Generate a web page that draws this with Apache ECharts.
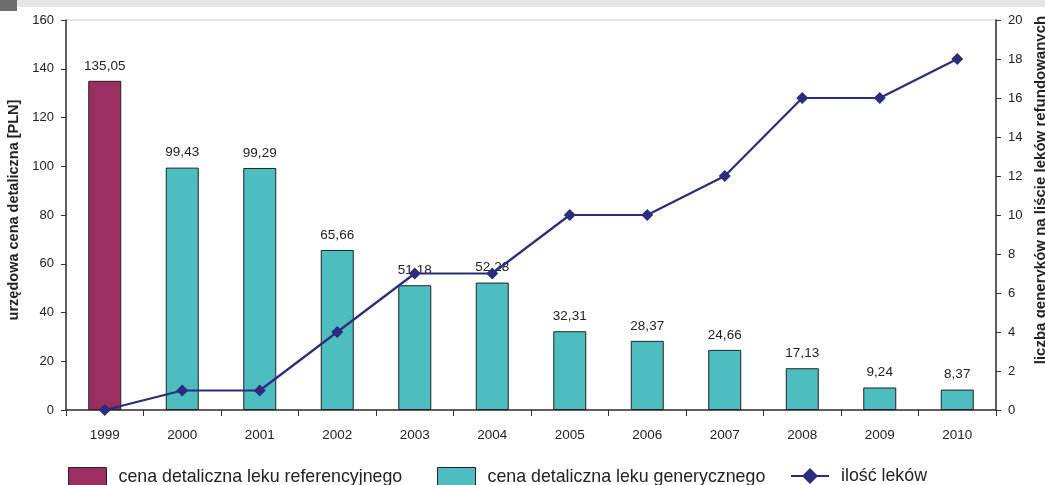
<!DOCTYPE html>
<html>
<head>
<meta charset="utf-8">
<script src="https://cdn.jsdelivr.net/npm/echarts@6/dist/echarts.min.js"></script>
<style>
html,body{margin:0;padding:0;background:#fff;}
#main{width:1045px;height:485px;}
</style>
</head>
<body>
<div id="main"></div>
<script>
const years = ['1999','2000','2001','2002','2003','2004','2005','2006','2007','2008','2009','2010'];
const referencePrice = [135.05, null, null, null, null, null, null, null, null, null, null, null];
const genericPrice = [null, 99.43, 99.29, 65.66, 51.18, 52.28, 32.31, 28.37, 24.66, 17.13, 9.24, 8.37];
const drugCount = [0, 1, 1, 4, 7, 7, 10, 10, 12, 16, 16, 18];
const leftTicks = [0, 160, 20];
const rightTicks = [0, 20, 2];
const seriesNames = ['cena detaliczna leku referencyjnego', 'cena detaliczna leku generycznego', 'ilość leków'];

const fmt = p => (p.value == null ? '' : p.value.toFixed(2).replace('.', ','));
const font = 'Liberation Sans, Arial, sans-serif';

const legendBase = {
  top: 467, itemWidth: 38, itemHeight: 20, padding: 0,
  textStyle: { fontSize: 17.8, color: '#222', fontFamily: font, padding: [0, 0, 10, 7] }
};

const chart = echarts.init(document.getElementById('main'));
chart.setOption({
  animation: false,
  backgroundColor: '#fff',
  textStyle: { fontFamily: font },
  graphic: [
    { type: 'rect', shape: { x: 0, y: 0, width: 1045, height: 7 }, style: { fill: '#e6e6e6' }, silent: true },
    { type: 'rect', shape: { x: 0, y: 0, width: 17, height: 11 }, style: { fill: '#6d6d6d' }, silent: true }
  ],
  grid: { left: 66, right: 49, top: 20, bottom: 75, outerBoundsMode: 'none', show: true, borderColor: '#c8c8c8', borderWidth: 1 },
  legend: [
    Object.assign({}, legendBase, { left: 68, data: [{ name: seriesNames[0], icon: 'rect', itemStyle: { borderColor: '#222', borderWidth: 1 } }] }),
    Object.assign({}, legendBase, { left: 437, data: [{ name: seriesNames[1], icon: 'rect', itemStyle: { borderColor: '#222', borderWidth: 1 } }] }),
    Object.assign({}, legendBase, { left: 790, data: [{ name: seriesNames[2] }] })
  ],
  xAxis: {
    type: 'category', data: years,
    axisLine: { lineStyle: { color: '#333', width: 1.5 } },
    axisTick: { show: true, length: 6, lineStyle: { color: '#333' } },
    axisLabel: { color: '#222', fontSize: 13.5, margin: 18 },
    splitLine: { show: false }
  },
  yAxis: [
    {
      type: 'value', min: leftTicks[0], max: leftTicks[1], interval: leftTicks[2],
      name: 'urzędowa cena detaliczna [PLN]', nameLocation: 'middle', nameRotate: 90, nameGap: 44,
      nameTextStyle: { fontWeight: 'bold', fontSize: 14.5, color: '#222', padding: [0, 0, 0, 10] },
      axisLine: { show: true, lineStyle: { color: '#333', width: 1.5 } },
      axisTick: { show: true, length: 5, lineStyle: { color: '#333' } },
      axisLabel: { color: '#222', fontSize: 13, margin: 12 },
      splitLine: { show: false }
    },
    {
      type: 'value', min: rightTicks[0], max: rightTicks[1], interval: rightTicks[2],
      name: 'liczba generyków na liście leków refundowanych', nameLocation: 'middle', nameRotate: 90, nameGap: 34,
      nameTextStyle: { fontWeight: 'bold', fontSize: 15, color: '#222', padding: [0, 0, 0, 50] },
      axisLine: { show: true, lineStyle: { color: '#333', width: 1.5 } },
      axisTick: { show: true, length: 5, lineStyle: { color: '#333' } },
      axisLabel: { color: '#222', fontSize: 13, margin: 12 },
      splitLine: { show: false }
    }
  ],
  series: [
    {
      name: seriesNames[0], type: 'bar', data: referencePrice,
      barWidth: 33, barGap: '-100%',
      itemStyle: { color: '#9c2f62', borderColor: '#222', borderWidth: 1 },
      label: { show: true, position: 'top', distance: 8, formatter: fmt, color: '#222', fontSize: 13.5 }
    },
    {
      name: seriesNames[1], type: 'bar', data: genericPrice,
      barWidth: 33, barGap: '-100%',
      itemStyle: { color: '#4dbdc0', borderColor: '#222', borderWidth: 1 },
      label: { show: true, position: 'top', distance: 8, formatter: fmt, color: '#222', fontSize: 13.5 }
    },
    {
      name: seriesNames[2], type: 'line', yAxisIndex: 1, data: drugCount,
      symbol: 'diamond', symbolSize: 12,
      lineStyle: { color: '#2c2c7e', width: 2.2 },
      itemStyle: { color: '#2c2c7e' },
      z: 5
    }
  ]
});
</script>
</body>
</html>
